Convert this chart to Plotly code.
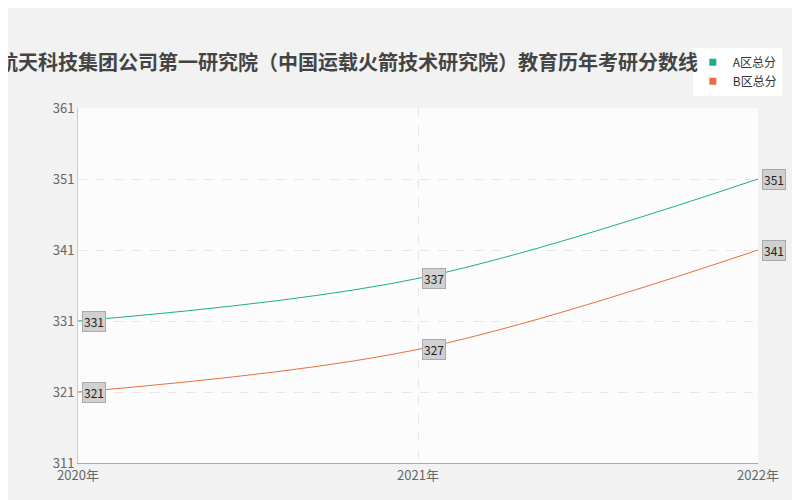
import plotly.graph_objects as go

years = ["2020年", "2021年", "2022年"]
score_a = [331, 337, 351]
score_b = [321, 327, 341]
title_text = "中国航天科技集团公司第一研究院（中国运载火箭技术研究院）教育历年考研分数线"

fig = go.Figure()
fig.add_trace(go.Scatter(x=years, y=score_a, name="A区总分", mode="lines", showlegend=False,
                         line=dict(color="#1aaf8b", width=1, shape="spline")))
fig.add_trace(go.Scatter(x=years, y=score_b, name="B区总分", mode="lines", showlegend=False,
                         line=dict(color="#e8703f", width=1, shape="spline")))
# legend entries with square markers
for name, color in (("A区总分", "#1aaf8b"), ("B区总分", "#e8703f")):
    fig.add_trace(go.Scatter(x=[None], y=[None], name=name, mode="markers",
                             marker=dict(symbol="square", size=7, color=color)))

# value labels in gray tags
for series in (score_a, score_b):
    for x, v in zip(years, series):
        fig.add_annotation(x=x, y=v, text=str(v), showarrow=False, xanchor="left",
                           xshift=4, bgcolor="#d0d0d0", bordercolor="#aaaaaa",
                           borderwidth=1, borderpad=1,
                           font=dict(size=12, color="#222222"))

fig.add_annotation(x=-0.179, y=1, xref="paper", yref="paper", yshift=63, xanchor="left",
                   text="<b>" + title_text + "</b>", showarrow=False,
                   font=dict(size=20, color="#444444"))

fig.update_layout(
    width=800, height=500, autosize=False,
    margin=dict(l=70, r=50, t=100, b=45, autoexpand=False),
    paper_bgcolor="#f2f2f2", plot_bgcolor="#fcfcfc",
    font=dict(family="Noto Sans CJK SC", size=13, color="#666666"),
    showlegend=True,
    legend=dict(x=1.035, y=1.17, xanchor="right", yanchor="top", bgcolor="white",
                font=dict(size=12, color="#333333"), itemwidth=30,
                tracegroupgap=0),
    xaxis=dict(range=[0, 2], showgrid=True, gridcolor="#e6e6e6", griddash="dash",
               showline=True, linecolor="#aaaaaa", ticks="", automargin=False),
    yaxis=dict(range=[311, 361], tickvals=[311, 321, 331, 341, 351, 361],
               showgrid=True, gridcolor="#e6e6e6", griddash="dash", automargin=False,
               showline=True, linecolor="#cccccc", zeroline=False),
)
fig.write_html("out.html")
